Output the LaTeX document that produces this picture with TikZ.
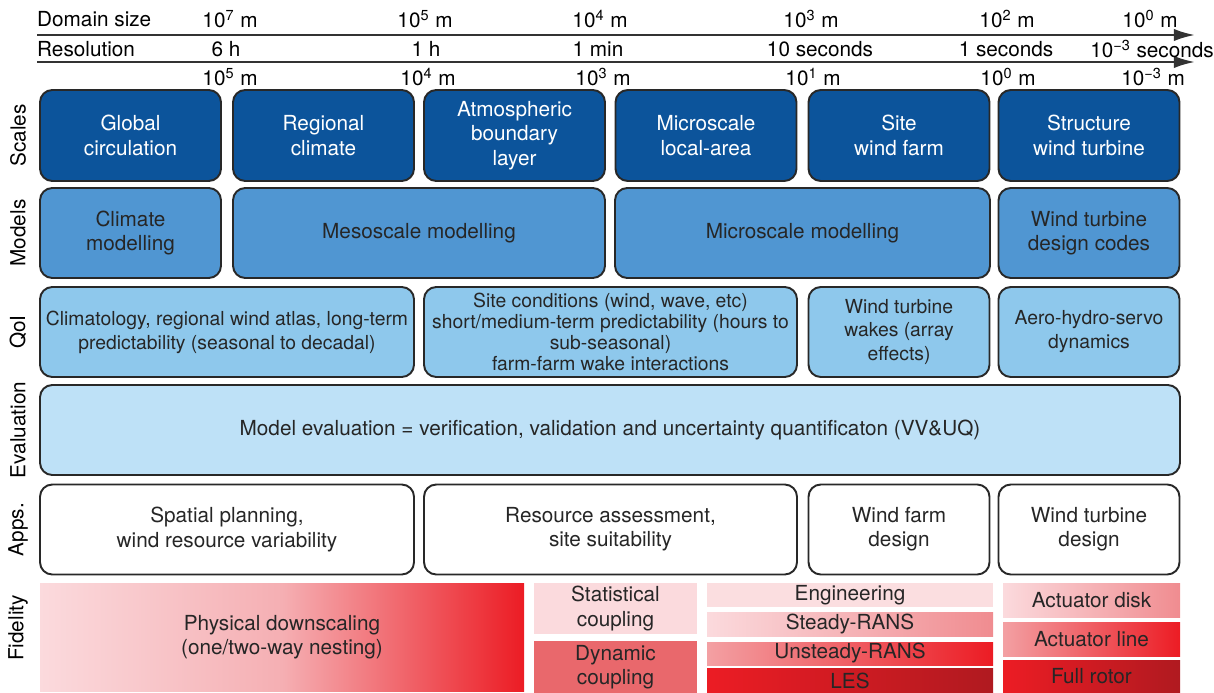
\documentclass[tikz,border=0pt]{standalone}
\usepackage{fontspec}
\setmainfont{TeX Gyre Heros}
\usetikzlibrary{arrows.meta}

\definecolor{sclblue}{RGB}{12,84,155}
\definecolor{mdlblue}{RGB}{80,150,210}
\definecolor{qoiblue}{RGB}{142,200,236}
\definecolor{evlblue}{RGB}{190,225,247}
\definecolor{edgegray}{RGB}{40,40,40}
\definecolor{pinkA}{RGB}{251,218,221}
\definecolor{pinkB}{RGB}{240,140,144}
\definecolor{pinkC}{RGB}{243,160,163}
\definecolor{salmon}{RGB}{233,104,108}
\definecolor{redA}{RGB}{236,28,36}
\definecolor{redB}{RGB}{176,26,32}

\tikzset{
  box/.style={draw=edgegray, line width=1.1pt, rounded corners=7pt, minimum width=3.62cm, minimum height=1.8cm, align=center, text=black!85},
  scl/.style={box, fill=sclblue, text=white, minimum height=1.82cm},
  mdl/.style={box, fill=mdlblue},
  qoi/.style={box, fill=qoiblue, font=\fontsize{11}{13.6}\selectfont},
  evl/.style={box, fill=evlblue},
  app/.style={box, fill=white},
  fid/.style={inner sep=0pt, align=center, text=black!85},
  tag/.style={rotate=90},
  axis/.style={draw=black!80, line width=1.4pt, -{Latex[length=12pt,width=7pt]}},
}

\begin{document}
\begin{tikzpicture}[every node/.style={font=\fontsize{11.8}{13.8}\selectfont}]
        \useasboundingbox (0,0) rectangle (24.28,-13.86);

        % axes
        \coordinate (ax1s) at (0.74,-0.70);
        \coordinate (ax1e) at (23.90,-0.70);
        \coordinate (ax2s) at (0.74,-1.24);
        \coordinate (ax2e) at (23.90,-1.24);
        \draw[axis] (ax1s) -- (ax1e);
        \draw[axis] (ax2s) -- (ax2e);

        \node[anchor=west] (dsz) at (0.62,-0.38) {Domain size};
        \node (d1) at (4.60,-0.38) {10\textsuperscript{7} m};
        \node (d2) at (8.50,-0.38) {10\textsuperscript{5} m};
        \node (d3) at (12.00,-0.38) {10\textsuperscript{4} m};
        \node (d4) at (16.22,-0.38) {10\textsuperscript{3} m};
        \node (d5) at (20.14,-0.38) {10\textsuperscript{2} m};
        \node (d6) at (23.00,-0.38) {10\textsuperscript{0} m};

        \node[anchor=west] (res) at (0.62,-0.98) {Resolution};
        \node (r1) at (4.52,-0.98) {6 h};
        \node (r2) at (8.52,-0.98) {1 h};
        \node (r3) at (11.96,-0.98) {1 min};
        \node (r4) at (16.40,-0.98) {10 seconds};
        \node (r5) at (20.12,-0.98) {1 seconds};
        \node (r6) at (23.04,-0.98) {10\textsuperscript{−3} seconds};

        \node (g1) at (4.60,-1.54) {10\textsuperscript{5} m};
        \node (g2) at (8.56,-1.54) {10\textsuperscript{4} m};
        \node (g3) at (12.06,-1.54) {10\textsuperscript{3} m};
        \node (g4) at (16.26,-1.54) {10\textsuperscript{1} m};
        \node (g5) at (20.16,-1.54) {10\textsuperscript{0} m};
        \node (g6) at (23.06,-1.54) {10\textsuperscript{−3} m};

        % row labels
        \node[tag] (lscl) at (0.36,-2.71) {Scales};
        \node[tag] (lmdl) at (0.36,-4.66) {Models};
        \node[tag] (lqoi) at (0.36,-6.64) {QoI};
        \node[tag] (levl) at (0.36,-8.60) {Evaluation};
        \node[tag] (lapp) at (0.36,-10.59) {Apps.};
        \node[tag] (lfid) at (0.36,-12.56) {Fidelity};

        % scales
        \node[scl] (glob) at (2.61,-2.71) {Global\\circulation};
        \node[scl] (regc) at (6.47,-2.71) {Regional\\climate};
        \node[scl] (abl) at (10.29,-2.71) {Atmospheric\\boundary\\layer};
        \node[scl] (micr) at (14.12,-2.71) {Microscale\\local-area};
        \node[scl] (site) at (17.98,-2.71) {Site\\wind farm};
        \node[scl] (strc) at (21.78,-2.71) {Structure\\wind turbine};

        % models
        \node[mdl] (clim) at (2.61,-4.66) {Climate\\modelling};
        \node[mdl, minimum width=7.44cm] (meso) at (8.38,-4.66) {Mesoscale modelling};
        \node[mdl, minimum width=7.50cm] (micm) at (16.05,-4.66) {Microscale modelling};
        \node[mdl] (wtdc) at (21.78,-4.66) {Wind turbine\\design codes};

        % quantities of interest
        \node[qoi, minimum width=7.48cm] (clat) at (4.54,-6.64) {Climatology, regional wind atlas, long-term\\predictability (seasonal to decadal)};
        \node[qoi, minimum width=7.46cm, font=\fontsize{11}{11.8}\selectfont] (sitc) at (12.21,-6.64) {Site conditions (wind, wave, etc)\\short/medium-term predictability (hours to\\sub-seasonal)\\farm-farm wake interactions};
        \node[qoi] (wake) at (17.98,-6.64) {Wind turbine\\wakes (array\\effects)};
        \node[qoi] (ahs) at (21.78,-6.64) {Aero-hydro-servo\\dynamics};

        % evaluation
        \node[evl, minimum width=22.80cm] (evlm) at (12.20,-8.60) {Model evaluation = verification, validation and uncertainty quantificaton (VV\&UQ)};

        % applications
        \node[app, minimum width=7.48cm] (sppl) at (4.54,-10.59) {Spatial planning,\\wind resource variability};
        \node[app, minimum width=7.46cm] (rsas) at (12.21,-10.59) {Resource assessment,\\site suitability};
        \node[app] (wfd) at (17.98,-10.59) {Wind farm\\design};
        \node[app] (wtd) at (21.78,-10.59) {Wind turbine\\design};

        % fidelity
        \node[fid, minimum width=9.68cm, minimum height=2.16cm, left color=pinkA, right color=redA, middle color={rgb,255:red,245;green,175;blue,179}] (phys) at (5.64,-12.74) {Physical downscaling\\(one/two-way nesting)};
        \node[fid, minimum width=3.26cm, minimum height=1.02cm, fill=pinkA] (stat) at (12.31,-12.17) {Statistical\\coupling};
        \node[fid, minimum width=3.26cm, minimum height=1.04cm, fill=salmon] (dync) at (12.31,-13.34) {Dynamic\\coupling};
        \node[fid, minimum width=5.72cm, minimum height=0.48cm, fill=pinkA!90!white] (eng) at (17.00,-11.90) {Engineering};
        \node[fid, minimum width=5.72cm, minimum height=0.48cm, left color=pinkA, right color=pinkB] (srans) at (17.00,-12.48) {Steady-RANS};
        \node[fid, minimum width=5.72cm, minimum height=0.46cm, left color=pinkC, right color=redA] (urans) at (17.00,-13.07) {Unsteady-RANS};
        \node[fid, minimum width=5.72cm, minimum height=0.50cm, left color=redA, right color=redB] (les) at (17.00,-13.61) {LES};
        \node[fid, minimum width=3.54cm, minimum height=0.68cm, left color=pinkA, right color=pinkB] (adisk) at (21.83,-12.00) {Actuator disk};
        \node[fid, minimum width=3.54cm, minimum height=0.68cm, left color=pinkC, right color=redA] (aline) at (21.83,-12.78) {Actuator line};
        \node[fid, minimum width=3.54cm, minimum height=0.66cm, left color=redA, right color=redB] (frot) at (21.83,-13.53) {Full rotor};
    \end{tikzpicture}
\end{document}
